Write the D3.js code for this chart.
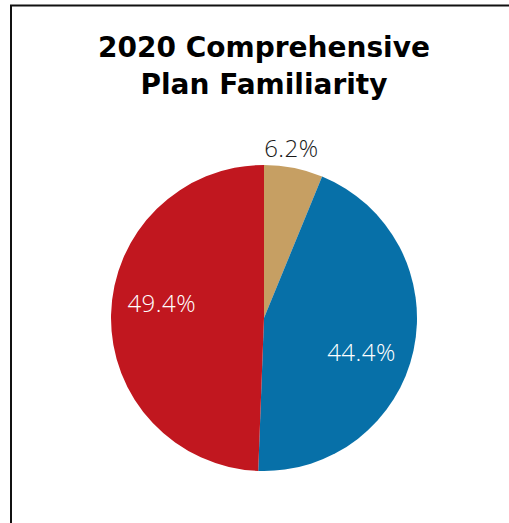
<!DOCTYPE html>
<html>
<head>
<meta charset="utf-8">
<script src="https://cdn.jsdelivr.net/npm/d3@7"></script>
<style>
  body { margin: 0; background: #fff; }
  svg { display: block; }
</style>
</head>
<body>
<svg id="chart"></svg>
<script>
// slices, clockwise from 12 o'clock
var categories = ["Tan", "Blue", "Red"];
var values = [6.2, 44.4, 49.4];
var labels = ["6.2%", "44.4%", "49.4%"];
var colors = ["#C69F63", "#0770A8", "#C1171F"];
var title = ["2020 Comprehensive", "Plan Familiarity"];

var width = 509, height = 523;
var cx = 264, cy = 318, radius = 153;

var svg = d3.select("#chart")
    .attr("width", width)
    .attr("height", height);

// frame: top and left edges only
svg.append("line")
    .attr("x1", 10).attr("x2", width)
    .attr("y1", 5.5).attr("y2", 5.5)
    .style("stroke", "#111").style("stroke-width", 2);
svg.append("line")
    .attr("x1", 11).attr("x2", 11)
    .attr("y1", 5).attr("y2", height)
    .style("stroke", "#111").style("stroke-width", 2);

//--------------------title---------------
svg.append("g")
    .selectAll("text")
    .data(title)
    .enter().append("text")
    .attr("x", cx)
    .attr("y", function(d, i) { return 57 + i * 37; })
    .style("text-anchor", "middle")
    .style("font-family", "'DejaVu Sans', sans-serif")
    .style("font-weight", "bold")
    .style("font-size", "28px")
    .style("fill", "#000")
    .text(function(d) { return d; });

//--------------------pie---------------
var pie = d3.pie()
    .sort(null)
    .value(function(d) { return d; });

var arcs = pie(values);

var arc = d3.arc()
    .innerRadius(0)
    .outerRadius(radius);

var g = svg.append("g")
    .attr("transform", "translate(" + cx + "," + cy + ")");

g.selectAll("path")
    .data(arcs)
    .enter().append("path")
    .attr("d", arc)
    .style("fill", function(d, i) { return colors[i]; });

// inside labels sit at ~0.67r (nudged a bit clockwise like the original),
// the small slice label goes outside
var shift = 7 * Math.PI / 180;
function labelPos(d) {
  var a = (d.startAngle + d.endAngle) / 2;
  var r = radius * 0.675;
  if (d.data < 10) { r = 172; a -= 2 * Math.PI / 180; }
  else { a += shift; }
  return [r * Math.sin(a), -r * Math.cos(a)];
}

g.selectAll("text")
    .data(arcs)
    .enter().append("text")
    .attr("transform", function(d) {
      var p = labelPos(d);
      return "translate(" + p[0] + "," + p[1] + ")";
    })
    .attr("dy", "0.36em")
    .style("text-anchor", "middle")
    .style("font-family", "'Open Sans', sans-serif")
    .style("font-weight", 300)
    .style("font-size", "24px")
    .style("letter-spacing", "0.5px")
    .style("fill", function(d) { return d.data < 10 ? "#1a1a1a" : "#fff"; })
    .text(function(d, i) { return labels[i]; });
</script>
</body>
</html>
